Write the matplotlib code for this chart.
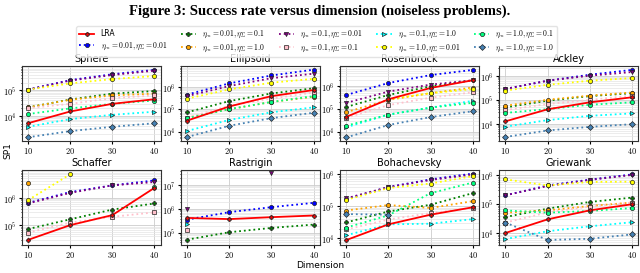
import numpy as np
import matplotlib
matplotlib.use('Agg')
import matplotlib.pyplot as plt
from matplotlib.ticker import FuncFormatter, LogLocator

plt.rcParams['mathtext.fontset'] = 'cm'

dims = [10, 20, 30, 40]
nan = np.nan

labels = ['LRA',
          r'$\eta_m = 0.01, \eta_\Sigma = 0.01$',
          r'$\eta_m = 0.01, \eta_\Sigma = 0.1$',
          r'$\eta_m = 0.01, \eta_\Sigma = 1.0$',
          r'$\eta_m = 0.1, \eta_\Sigma = 0.01$',
          r'$\eta_m = 0.1, \eta_\Sigma = 0.1$',
          r'$\eta_m = 0.1, \eta_\Sigma = 1.0$',
          r'$\eta_m = 1.0, \eta_\Sigma = 0.01$',
          r'$\eta_m = 1.0, \eta_\Sigma = 0.1$',
          r'$\eta_m = 1.0, \eta_\Sigma = 1.0$']
colors = ['red', 'blue', 'green', 'orange', 'purple', 'pink', 'cyan', 'yellow', 'springgreen', 'steelblue']
markers = ['P', 'o', 'P', 'o', 'v', 's', '>', 'o', 'o', 'D']

# log10(SP1), one row per series in label order
sphere = [[3.71, 4.17, 4.47, 4.65],
          [5.03, 5.40, 5.63, 5.80],
          [4.33, 4.64, 4.87, 4.97],
          [4.33, 4.63, 4.80, 4.87],
          [5.03, 5.38, 5.60, 5.77],
          [4.30, 4.47, 4.69, 4.80],
          [3.57, 3.87, 4.04, 4.16],
          [5.03, 5.27, 5.44, 5.56],
          [4.07, 4.29, 4.47, 4.60],
          [3.16, 3.40, 3.57, 3.71]]
ellipsoid = [[4.49, 5.12, 5.58, 5.85],
             [5.65, 6.15, 6.50, 6.76],
             [4.86, 5.36, 5.70, 5.93],
             [4.62, 5.00, 5.32, 5.55],
             [5.58, 6.03, 6.38, 6.58],
             [4.62, 5.15, 5.47, 5.74],
             [4.03, 4.52, 4.86, 5.08],
             [5.47, 5.88, 6.18, 6.35],
             [4.60, 5.00, 5.32, 5.58],
             [3.76, 4.26, 4.60, 4.84]]
rosenbrock = [[4.65, 5.43, 5.93, 6.27],
              [5.62, 6.15, 6.50, 6.73],
              [5.09, 5.62, 6.00, 6.27],
              [4.86, 5.40, 5.70, 5.95],
              [5.27, 5.77, 6.08, 6.27],
              [4.61, 5.17, 5.50, 5.74],
              [4.19, 4.75, 5.06, 5.36],
              [nan, 5.43, 5.70, 5.88],
              [4.26, 4.75, 5.06, 5.27],
              [3.74, 4.29, 4.64, 4.90]]
ackley = [[4.10, 4.60, 4.89, 5.10],
          [5.45, 5.79, 6.04, 6.24],
          [4.68, 4.96, 5.15, 5.27],
          [4.75, 5.00, 5.17, 5.30],
          [5.45, 5.79, 6.00, 6.15],
          [4.57, 4.82, 4.99, 5.17],
          [3.88, 4.15, 4.33, 4.43],
          [5.38, 5.62, 5.79, 5.90],
          [4.45, 4.61, 4.79, 4.89],
          [3.45, 3.72, 3.87, 3.98]]
schaffer = [[4.48, 5.01, 5.37, 6.35],
            [5.81, 6.20, 6.44, 6.62],
            [4.87, 5.22, 5.57, 5.79],
            [6.54, nan, nan, nan],
            [5.79, 6.17, 6.44, 6.56],
            [4.74, 5.10, 5.31, 5.47],
            [nan, nan, nan, nan],
            [5.91, 6.84, nan, nan],
            [nan, nan, nan, 6.38],
            [nan, nan, nan, nan]]
rastrigin = [[5.63, 5.58, 5.66, 5.73],
             [5.56, 5.87, 6.08, 6.26],
             [4.72, 5.03, 5.21, 5.35],
             [nan, nan, nan, nan],
             [6.00, nan, 7.49, nan],
             [5.14, nan, nan, nan],
             [5.36, nan, nan, nan],
             [nan, nan, nan, nan],
             [nan, nan, nan, nan],
             [nan, nan, nan, nan]]
bohachevsky = [[3.95, 4.44, 4.74, 4.97],
               [5.23, 5.60, 5.84, 6.02],
               [4.50, 4.84, 5.05, 5.41],
               [4.87, 5.04, 4.95, 5.16],
               [5.25, 5.60, 5.82, 5.99],
               [4.28, 4.59, 4.79, 4.95],
               [4.10, 4.44, 4.46, 4.60],
               [5.20, 5.57, 5.71, 5.94],
               [4.34, 4.72, 5.41, 5.74],
               [4.76, 4.74, nan, nan]]
griewank = [[4.01, 4.48, 4.79, 5.00],
            [5.31, 5.65, 5.85, 6.03],
            [4.56, 4.85, 5.08, 5.23],
            [4.71, 4.79, 4.94, 5.06],
            [5.31, 5.63, 5.84, 6.01],
            [4.37, 4.72, 4.92, 5.06],
            [3.80, 4.07, 4.24, 4.38],
            [5.86, 5.65, 5.77, 5.78],
            [4.79, 4.71, 4.77, 4.87],
            [4.37, 3.77, 3.81, 3.96]]

titles = ['Sphere', 'Ellipsoid', 'Rosenbrock', 'Ackley',
          'Schaffer', 'Rastrigin', 'Bohachevsky', 'Griewank']
panels = [sphere, ellipsoid, rosenbrock, ackley,
          schaffer, rastrigin, bohachevsky, griewank]
ylims = [(3.03, 5.95), (3.6, 6.92), (3.6, 6.9), (3.3, 6.4),
         (4.3, 6.98), (4.5, 7.62), (3.8, 6.12), (3.6, 6.17)]

fig, axes = plt.subplots(2, 4, figsize=(6.4, 2.73), dpi=100)
plt.subplots_adjust(left=0.034, right=0.997, top=0.758, bottom=0.103,
                    wspace=0.145, hspace=0.4)

logfmt = FuncFormatter(lambda v, p: r'$10^{%d}$' % round(np.log10(v)))
xfmt = FuncFormatter(lambda v, p: r'$%d$' % v)

for ax, title, data, lim in zip(axes.flat, titles, panels, ylims):
    for i, row in enumerate(data):
        vals = 10 ** np.array(row)
        ls = '-' if i == 0 else ':'
        ax.plot(dims, vals, ls, color=colors[i], marker=markers[i], lw=1.3,
                ms=3, mec='#222222', mew=0.5, label=labels[i], zorder=3 + (i == 0))
    ax.set_yscale('log')
    ax.set_ylim(10 ** lim[0], 10 ** lim[1])
    ax.yaxis.set_major_locator(LogLocator(base=10))
    ax.yaxis.set_major_formatter(logfmt)
    ax.set_xticks(dims)
    ax.xaxis.set_major_formatter(xfmt)
    ax.grid(True, which='major', color='#cccccc', lw=0.6)
    ax.grid(True, which='minor', axis='y', color='#e4e4e4', lw=0.5)
    ax.tick_params(labelsize=6, length=2, pad=2)
    ax.tick_params(which='minor', length=1)
    ax.set_title(title, fontsize=7, pad=3)
    for s in ax.spines.values():
        s.set_color('#333333')
        s.set_linewidth(0.8)

handles, labs = axes[0, 0].get_legend_handles_labels()
fig.legend(handles, labs, loc='center', bbox_to_anchor=(0.495, 0.848), ncol=5,
           fontsize=5.5, frameon=True, edgecolor='#dddddd', handlelength=2.0,
           columnspacing=1.8, borderpad=0.4, labelspacing=0.3)

fig.suptitle('Figure 3: Success rate versus dimension (noiseless problems).',
             y=0.985, fontsize=10.5, fontweight='bold', family='Liberation Serif')
fig.text(0.5, 0.02, 'Dimension', ha='center', fontsize=6.5)
fig.text(0.006, 0.45, 'SP1', va='center', rotation=90, fontsize=6.5)

plt.savefig('out.png', dpi=100)
